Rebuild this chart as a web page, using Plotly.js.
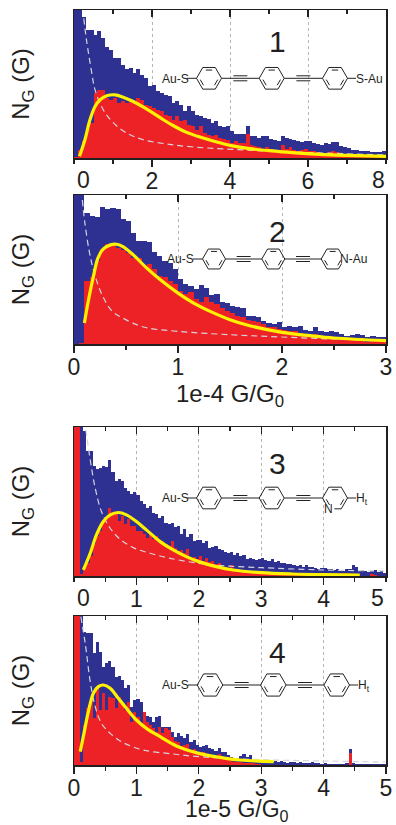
<!DOCTYPE html>
<html><head><meta charset="utf-8">
<script src="https://cdn.plot.ly/plotly-3.0.1.min.js"></script>
<style>html,body{margin:0;padding:0;background:#fff}#c{width:396px;height:825px}</style>
</head><body><div id="c"></div>
<script>
// ---- Panel 1 (bin width 0.1, x 0-8)
const blue1=[445,445,425,385,385,370,382,360,335,325,300,300,280,268,272,255,268,250,240,215,220,200,195,190,185,165,170,160,140,155,140,130,125,120,118,105,110,95,92,95,80,72,72,72,97,65,65,60,65,65,58,55,52,65,60,58,55,52,48,50,50,45,42,40,45,42,48,47,35,32,30,25,25,22,22,22,18,17,18,20];
const red1=[3,25,50,90,105,195,205,205,180,175,180,165,170,165,170,168,180,175,160,155,150,145,140,130,125,115,125,110,115,100,95,85,95,75,70,65,70,60,58,55,45,50,45,45,72,40,35,32,28,32,28,25,22,38,28,32,25,22,25,28,22,20,18,15,15,18,20,18,12,10,10,8,8,7,8,6,5,5,5,4];
const fitX1=[0.14,0.28,0.41,0.54,0.67,0.84,1.05,1.26,1.52,1.78,2.03,2.29,2.55,2.89,3.23,3.66,4,4.5,5,5.6,6.3,7,8];
const fitY1=[5,55,115,155,175,187,190,183,170,153,135,115,97,77,63,48,38,28,22,16,11,8,5];
const bgX1=[0.25,0.32,0.45,0.54,0.75,1.0,1.35,1.78,2.38,3.06,3.9,4.94,8];
const bgY1=[420,355,260,205,145,107,75,55,42,33,27,21,9];
// ---- Panel 2 (bin width 0.05, x 0-3)
const blue2=[448,448,393,385,383,413,405,408,405,375,370,335,310,310,307,278,265,250,245,225,195,180,175,165,178,168,148,150,125,122,115,112,108,85,85,80,68,62,60,65,50,55,50,55,42,40,52,38,35,40,35,30,25,28,30,28,22,25,22,22];
const red2=[0,3,190,200,250,285,300,300,290,282,275,260,260,235,240,225,205,200,190,180,160,150,155,135,125,140,125,120,108,100,92,85,80,72,70,65,60,52,52,45,42,40,38,32,30,28,30,25,22,18,22,15,18,15,12,16,6,12,8,8];
const fitX2=[0.1,0.14,0.19,0.23,0.28,0.35,0.41,0.47,0.57,0.7,0.83,1,1.15,1.31,1.5,1.69,2,2.27,2.5,3];
const fitY2=[63,133,208,258,285,298,300,293,268,228,193,153,123,98,73,55,35,25,18,10];
const bgX2=[0.08,0.105,0.15,0.2,0.27,0.36,0.47,0.67,1,1.5,2,2.5,3];
const bgY2=[433,363,273,208,148,101,78,51,38,28,21,15,11];
// ---- Panel 3 (bin width 0.05, x 0-5)
const blue3=[446,446,446,435,373,373,328,320,322,330,325,348,310,285,290,285,263,255,245,250,243,225,215,203,210,190,185,173,180,160,155,160,148,150,125,140,118,125,105,108,108,100,105,85,88,90,80,78,72,70,73,62,68,60,62,50,55,52,48,50,53,48,45,50,42,45,38,40,36,35,33,30,33,28,32,26,28,25,22,24,23,20,22,18,20,18,16,20,22,33,28,15,18,14,12,16,18,12,14,10];
const red3=[446,446,5,25,40,60,95,120,135,165,175,205,190,185,165,180,155,170,150,150,135,135,125,115,130,110,120,100,105,95,90,105,85,75,78,70,80,55,58,50,60,45,55,42,45,35,38,28,28,25,32,20,18,18,15,15,12,10,10,12,9,8,8,7,7,6,5,5,5,5,4,4,4,3,3,2,2,2,2,2,2,2,2,1,1,1,1,8,5,2,1,1,1,1,1,5,4,1,1,1];
const fitX3=[0.15,0.26,0.36,0.47,0.58,0.71,0.84,1,1.16,1.38,1.59,1.8,2,2.28,2.55,3,3.5,4,4.58];
const fitY3=[18,68,123,163,183,190,183,163,138,103,78,58,43,28,18,10,6,4,3];
const bgX3=[0.19,0.26,0.34,0.44,0.58,0.74,0.95,1.22,1.54,2,2.44,3,4,5];
const bgY3=[438,348,263,193,143,110,85,68,53,38,30,25,18,15];
// ---- Panel 4 (bin width 0.05, x 0-5)
const blue4=[447,447,447,400,397,395,335,370,340,295,307,313,295,265,268,255,230,240,175,195,197,190,150,148,145,130,145,147,115,113,115,100,85,95,87,80,93,70,75,60,55,58,60,50,48,42,50,40,38,30,25,22,20,26,33,24,30,15,14,16,12,15,13,10,11,9,12,8,7,10,8,6,9,7,6,5,8,6,5,4,6,4,3,4,3,4,4,5,47,5,4,3,4,3,3,3,3,3,3,3];
const red4=[447,447,10,120,170,205,140,230,165,215,165,205,200,170,205,180,165,190,130,160,145,125,160,130,120,110,100,115,95,110,105,85,72,68,58,60,62,42,48,35,34,38,28,26,24,22,32,20,16,15,12,10,9,8,7,6,5,5,4,4,0,0,0,0,0,0,0,0,0,0,0,0,0,0,0,0,0,0,0,0,0,0,0,0,0,0,0,0,35,0,0,0,0,0,0,0,0,0,0,0];
const fitX4=[0.1,0.16,0.23,0.31,0.39,0.47,0.58,0.71,0.84,1,1.16,1.38,1.64,2,2.34,2.66,3.2];
const fitY4=[40,95,160,215,235,240,230,200,170,135,110,85,57,35,23,15,10];
const bgX4=[0.11,0.18,0.26,0.34,0.44,0.58,0.79,1.11,1.59,2,3,4,5];
const bgY4=[445,365,250,175,125,95,67,45,33,25,16,12,9];
// ---- Axis text
const xRange=[8,3,5,5];
const binW=[0.1,0.05,0.05,0.05];
const majorVals=[[2,4,6],[0,1,2,3],[1,2,3,4],[0,1,2,3,4,5]];
const minorStep=[1,0.5,0.5,0.5];
const xTitle2='1e-4 G/G<sub>0</sub>';
const xTitle4='1e-5 G/G<sub>0</sub>';
const yTitle='N<sub>G</sub> (G)';
const panelNames=['1','2','3','4'];

const W=396,H=825,L=74,R=386;
const boxes=[[10,158],[195,344],[427,576],[616,765]];
const yMax=[445,448,446,447];
const BLUE='#2e3192',RED='#ed2226',YEL='#fff200',INK='#231f20';
const FF='"Liberation Sans",Arial,sans-serif';
const TICK=23, TITLE=24;
const blues=[blue1,blue2,blue3,blue4],reds=[red1,red2,red3,red4];
const fx=[fitX1,fitX2,fitX3,fitX4],fy=[fitY1,fitY2,fitY3,fitY4];
const bx=[bgX1,bgX2,bgX3,bgX4],by=[bgY1,bgY2,bgY3,bgY4];

const traces=[],layout={width:W,height:H,margin:{l:0,r:0,t:0,b:0},paper_bgcolor:'#fff',plot_bgcolor:'#fff',
  showlegend:false,barmode:'overlay',bargap:0,font:{family:FF,color:INK},shapes:[],annotations:[]};

for(let p=0;p<4;p++){
  const n=p+1, xa='x'+(n===1?'':n), ya='y'+(n===1?'':n), xk='xaxis'+(n===1?'':n), yk='yaxis'+(n===1?'':n);
  const centers=blues[p].map((_,i)=>(i+0.5)*binW[p]);
  traces.push({type:'bar',x:centers,y:blues[p],width:binW[p],marker:{color:BLUE,line:{width:0}},xaxis:xa,yaxis:ya,hoverinfo:'skip'});
  traces.push({type:'bar',x:centers,y:reds[p],width:binW[p],marker:{color:RED,line:{width:0}},xaxis:xa,yaxis:ya,hoverinfo:'skip'});
  traces.push({type:'scatter',mode:'lines',x:bx[p],y:by[p],line:{color:'#d4d4dc',width:1.2,dash:'6px,4px',shape:'spline'},xaxis:xa,yaxis:ya,hoverinfo:'skip'});
  traces.push({type:'scatter',mode:'lines',x:fx[p],y:fy[p],line:{color:YEL,width:3.2,shape:'spline'},xaxis:xa,yaxis:ya,hoverinfo:'skip'});
  const [top,bot]=boxes[p];
  layout[xk]={domain:[L/W,R/W],range:[0,xRange[p]],anchor:ya,showline:true,linewidth:1.5,linecolor:INK,mirror:true,
    tickmode:'array',tickvals:majorVals[p],ticks:'outside',ticklen:7,tickwidth:1.2,tickcolor:INK,ticklabelstandoff:-5,
    tickfont:{size:TICK,family:FF,color:INK},showgrid:true,gridcolor:'#b5b5b5',gridwidth:1,griddash:'dot',zeroline:false,
    minor:{dtick:minorStep[p],tick0:0,ticks:'outside',ticklen:4,tickwidth:1.2,tickcolor:INK,showgrid:false}};
  if(p===1) layout[xk].title={text:xTitle2,font:{size:TITLE,family:FF,color:INK},standoff:0};
  layout[yk]={domain:[1-bot/H,1-top/H],range:[0,yMax[p]],anchor:xa,showline:true,linewidth:1.5,linecolor:INK,mirror:true,
    showticklabels:false,ticks:'',showgrid:false,zeroline:false,
    title:{text:yTitle,font:{size:TITLE,family:FF,color:INK},standoff:36}};
  const tn=n+4;
  traces.push({type:'scatter',mode:'none',x:[0],y:[0],xaxis:'x'+tn,yaxis:ya,hoverinfo:'skip'});
  layout['xaxis'+tn]={domain:[L/W,R/W],range:[0,xRange[p]],anchor:ya,overlaying:xa,side:'top',showline:false,
    tickmode:'array',tickvals:majorVals[p],ticks:'inside',ticklen:7,tickwidth:1.2,tickcolor:INK,showticklabels:false,showgrid:false,zeroline:false,
    minor:{dtick:minorStep[p],tick0:0,ticks:'inside',ticklen:4,tickwidth:1.2,tickcolor:INK,showgrid:false}};
}

// ---- Annotations and molecule sketches (page pixels -> paper)
const X=v=>v/W, Y=v=>1-v/H;
function note(t,x,y,size){layout.annotations.push({text:t,xref:'paper',yref:'paper',x:X(x),y:Y(y),xanchor:'center',yanchor:'middle',showarrow:false,font:{size:size,family:FF,color:INK}});}
function line(a,b,c,d){layout.shapes.push({type:'line',xref:'paper',yref:'paper',x0:X(a),y0:Y(b),x1:X(c),y1:Y(d),line:{color:'#222',width:1}});}
// vertices: 0 right, 1 lower right, 2 lower left, 3 left, 4 upper left, 5 upper right
function hexRing(cx,cy,r,hetero){
  const pts=[];for(let i=0;i<6;i++){const t=i*Math.PI/3;pts.push([cx+r*Math.cos(t),cy+r*Math.sin(t)]);}
  for(let i=0;i<6;i++){
    let a=pts[i],b=pts[(i+1)%6];
    if(hetero===i) a=[a[0]+(b[0]-a[0])*0.45,a[1]+(b[1]-a[1])*0.45];
    if(hetero===(i+1)%6) b=[b[0]+(a[0]-b[0])*0.45,b[1]+(a[1]-b[1])*0.45];
    line(a[0],a[1],b[0],b[1]);
  }
  [0,2,4].forEach(i=>{const a=pts[i],b=pts[(i+1)%6],f=0.76,s=0.16;
    const A=[cx+(a[0]-cx)*f,cy+(a[1]-cy)*f],B=[cx+(b[0]-cx)*f,cy+(b[1]-cy)*f];
    line(A[0]+(B[0]-A[0])*s,A[1]+(B[1]-A[1])*s,B[0]-(B[0]-A[0])*s,B[1]-(B[1]-A[1])*s);});
}
function mol(xs,cy,r,het){
  xs.forEach((c,i)=>hexRing(c,cy,r,i===2?het:undefined));
  for(let i=0;i<2;i++){const a=xs[i]+r,b=xs[i+1]-r,m=(a+b)/2;
    line(a,cy,b,cy);line(m-7,cy-2.5,m+7,cy-2.5);line(m-7,cy+2.5,m+7,cy+2.5);}
}
mol([209,271.7,335],78.3,12.5);
line(187,78.3,196.5,78.3);line(347.5,78.3,356,78.3);
note('Au-S',175,78.5,12);note('S-Au',369,78.5,12);
mol([214,273.3,332.7],259,11.5,0);
line(193,259,202.5,259);
note('Au-S',180,259,12);note('N-Au',353.5,259,12);
mol([209,271.7,335],498,12.5,2);
line(187,498,196.5,498);line(347.5,498,356,498);
note('Au-S',175,498,12);note('H<sub>t</sub>',362,499,12);note('N',328.5,509,12);
mol([210,273.3,336.7],685,12.8);
line(188,685,197.2,685);line(349.5,685,358,685);
note('Au-S',175,685,12);note('H<sub>t</sub>',364,686,12);

panelNames.forEach((t,i)=>note(t,277,[42,231,464,652][i],30));
note('0',83,180,TICK);note('8',378,180,TICK);
note('0',83,598,TICK);note('5',377,598,TICK);
note(xTitle4,237,810,23);

Plotly.newPlot('c',traces,layout,{displayModeBar:false,staticPlot:true});
</script></body></html>
